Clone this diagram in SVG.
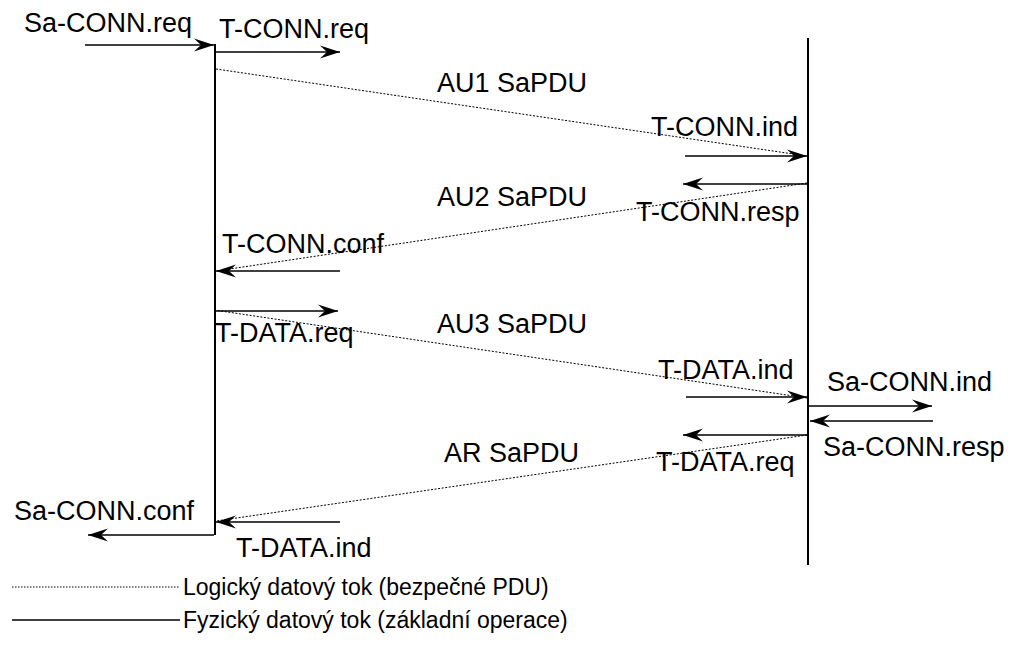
<svg xmlns="http://www.w3.org/2000/svg" width="1013" height="654" viewBox="0 0 1013 654">
  <style>
    text { font-family: "Liberation Sans", Arial, sans-serif; font-size: 27px; fill: #000; }
    .legend { font-size: 23px; }
    .life { stroke: #000; stroke-width: 2; fill: none; }
    .phys { stroke: #000; stroke-width: 1.4; fill: none; }
    .logic { stroke: #000; stroke-width: 1; stroke-dasharray: 2 1.6; fill: none; }
    .legend-logic { stroke: #000; stroke-width: 1; stroke-dasharray: 1.5 1.5; fill: none; }
  </style>
  <defs>
    <marker id="arrow" markerUnits="userSpaceOnUse" markerWidth="24" markerHeight="16" viewBox="-22 -8 24 16" refX="0" refY="0" orient="auto">
      <path d="M0,0 L-20,-6.5 L-13,0 L-20,6.5 Z" fill="#000"/>
    </marker>
  </defs>

  <rect width="1013" height="654" fill="#fff"/>

  <!-- lifelines of the two communicating entities -->
  <g id="entity-a">
    <line class="life" x1="215" y1="44" x2="215" y2="535"/>
  </g>
  <g id="entity-b">
    <line class="life" x1="808" y1="38" x2="808" y2="565"/>
  </g>

  <g id="connectors">
    <!-- logical flows (secure PDUs) -->
    <line class="logic" x1="216" y1="69" x2="807" y2="156"/>
    <line class="logic" x1="807" y1="183" x2="216" y2="271"/>
    <line class="logic" x1="214" y1="310" x2="807" y2="398"/>
    <line class="logic" x1="807" y1="435" x2="216" y2="521"/>

    <!-- physical flows (primitives) -->
    <line class="phys" x1="85" y1="45" x2="214" y2="45" marker-end="url(#arrow)"/>
    <line class="phys" x1="216" y1="52" x2="340" y2="52" marker-end="url(#arrow)"/>
    <line class="phys" x1="685" y1="156" x2="807" y2="156" marker-end="url(#arrow)"/>
    <line class="phys" x1="807" y1="184" x2="683" y2="184" marker-end="url(#arrow)"/>
    <line class="phys" x1="340" y1="271" x2="216" y2="271" marker-end="url(#arrow)"/>
    <line class="phys" x1="214" y1="311" x2="338" y2="311" marker-end="url(#arrow)"/>
    <line class="phys" x1="686" y1="397" x2="807" y2="397" marker-end="url(#arrow)"/>
    <line class="phys" x1="809" y1="406" x2="932" y2="406" marker-end="url(#arrow)"/>
    <line class="phys" x1="933" y1="421" x2="810" y2="421" marker-end="url(#arrow)"/>
    <line class="phys" x1="807" y1="435" x2="683" y2="435" marker-end="url(#arrow)"/>
    <line class="phys" x1="340" y1="522" x2="216" y2="522" marker-end="url(#arrow)"/>
    <line class="phys" x1="214" y1="535" x2="88" y2="535" marker-end="url(#arrow)"/>
  </g>

  <g id="labels">
    <text x="24" y="32">Sa-CONN.req</text>
    <text x="219" y="38">T-CONN.req</text>
    <text x="437" y="92">AU1 SaPDU</text>
    <text x="651" y="136">T-CONN.ind</text>
    <text x="437" y="206">AU2 SaPDU</text>
    <text x="636" y="221">T-CONN.resp</text>
    <text x="222" y="253">T-CONN.conf</text>
    <text x="437" y="333">AU3 SaPDU</text>
    <text x="215" y="342">T-DATA.req</text>
    <text x="658" y="379">T-DATA.ind</text>
    <text x="827" y="391">Sa-CONN.ind</text>
    <text x="823" y="456">Sa-CONN.resp</text>
    <text x="444" y="462">AR SaPDU</text>
    <text x="656" y="471">T-DATA.req</text>
    <text x="14" y="520">Sa-CONN.conf</text>
    <text x="236" y="557">T-DATA.ind</text>
  </g>

  <g id="legend">
    <line class="legend-logic" x1="12" y1="587" x2="180" y2="587"/>
    <text class="legend" x="183" y="595">Logický datový tok (bezpečné PDU)</text>
    <line class="phys" x1="12" y1="620" x2="180" y2="620"/>
    <text class="legend" x="183" y="628">Fyzický datový tok (základní operace)</text>
  </g>
</svg>
